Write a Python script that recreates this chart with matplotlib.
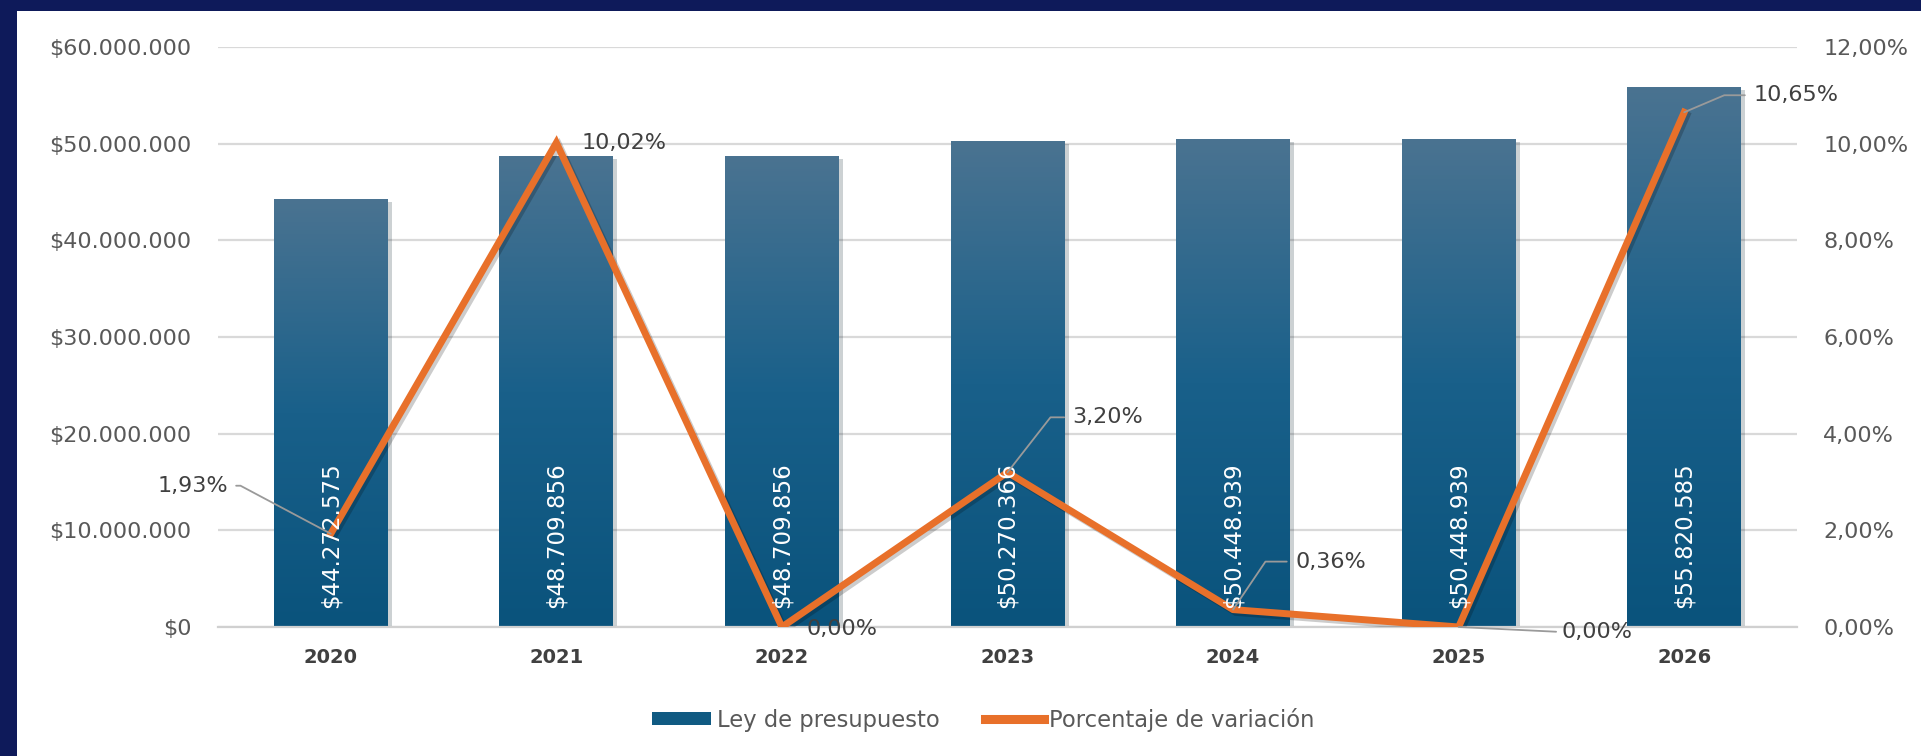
import numpy as np
import matplotlib
matplotlib.use("Agg")
import matplotlib.pyplot as plt
import matplotlib.patheffects as pe
from matplotlib.colors import LinearSegmentedColormap
from matplotlib.patches import Rectangle, Patch
from matplotlib.lines import Line2D
from matplotlib.ticker import FuncFormatter

# data
years = ["2020", "2021", "2022", "2023", "2024", "2025", "2026"]
budget = [44272575, 48709856, 48709856, 50270366, 50448939, 50448939, 55820585]
variation = [1.93, 10.02, 0.00, 3.20, 0.36, 0.00, 10.65]

plt.rcParams['font.family'] = ['DejaVu Sans']

NAVY = '#0e1a5a'
ORANGE = '#e8702a'
GREY_TXT = '#595959'
DARK_TXT = '#404040'

fig = plt.figure(figsize=(19.21, 7.56), dpi=100, facecolor=NAVY)
# white panel inside the navy frame (frame only on top and left)
fig.patches.append(Rectangle((17/1921, 0), 1, (756-11)/756, transform=fig.transFigure,
                             facecolor='white', edgecolor='none', zorder=-1))

ax = fig.add_axes([218/1921, 129/756, (1797-218)/1921, (627-47)/756])
ax.set_facecolor('none')
x = np.arange(len(years))
bw = 0.505

cmap = LinearSegmentedColormap.from_list('bar', ['#0a537c', '#19608a', '#4a7391'])
grad = np.linspace(0, 1, 256).reshape(-1, 1)
bars = ax.bar(x, budget, width=bw, color='#0a537c', zorder=2,
              path_effects=[pe.SimplePatchShadow(offset=(3, -2), alpha=0.2), pe.Normal()])
for b in bars:
    x0, w, h = b.get_x(), b.get_width(), b.get_height()
    im = ax.imshow(grad, extent=[x0, x0 + w, 0, h], origin='lower', aspect='auto',
                   cmap=cmap, zorder=2.5)
    im.set_clip_path(b)

ax.set_xlim(-0.5, len(years) - 0.5)
ax.set_ylim(0, 60000000)
ax.set_yticks(np.arange(0, 60000001, 10000000))
ax.yaxis.set_major_formatter(FuncFormatter(lambda v, p: "$" + f"{int(v):,}".replace(',', '.')))
ax.grid(axis='y', color='#d9d9d9', lw=1.6, zorder=0)
ax.set_axisbelow(True)
for s in ['top', 'right', 'left']:
    ax.spines[s].set_visible(False)
ax.spines['bottom'].set_color('#d0d0d0')
ax.spines['bottom'].set_linewidth(1.6)
ax.tick_params(axis='y', length=0, pad=19, labelsize=16, labelcolor=GREY_TXT)
ax.tick_params(axis='x', length=0, pad=15, labelsize=14, labelcolor=DARK_TXT)
ax.set_xticks(x)
ax.set_xticklabels(years, fontweight='bold')

ax2 = ax.twinx()
ax2.set_ylim(0, 12)
ax2.set_yticks(np.arange(0, 12.1, 2))
ax2.yaxis.set_major_formatter(FuncFormatter(lambda v, p: f"{v:.2f}%".replace('.', ',')))
ax2.tick_params(axis='y', length=0, pad=19, labelsize=16, labelcolor=GREY_TXT)
for s in ax2.spines.values():
    s.set_visible(False)

ax2.plot(x, variation, color=ORANGE, lw=5, solid_joinstyle='miter', zorder=3,
         path_effects=[pe.SimpleLineShadow(offset=(2, -2), alpha=0.2), pe.Normal()])

# bar value labels, on top of the line
for xi, v in zip(x, budget):
    ax2.text(xi, 2000000, "$" + f"{v:,}".replace(',', '.'), transform=ax.transData,
             rotation=90, ha='center', va='bottom', color='white', fontsize=16.5, zorder=5)

# percentage labels with leader lines (offsets in pixels)
offsets = [(-103, 48, 'right', -28), (25, 0, 'left', None), (25, -2, 'left', None),
           (65, 55, 'left', 52), (62, 48, 'left', 56), (103, -5, 'left', 'straight'),
           (69, 17, 'left', 23)]
for xi, v, (dx, dy, ha, ang) in zip(x, variation, offsets):
    txt = f"{v:.2f}%".replace('.', ',')
    kw = {}
    if ang == 'straight':
        kw['arrowprops'] = dict(arrowstyle='-', color='#9a9a9a', lw=1.3, shrinkA=2, shrinkB=0,
                                relpos=(0, 0.5))
    elif ang is not None:
        kw['arrowprops'] = dict(arrowstyle='-', color='#9a9a9a', lw=1.3, shrinkA=4, shrinkB=0,
                                relpos=(1, 0.5) if ha == 'right' else (0, 0.5),
                                connectionstyle=f"angle,angleA=0,angleB={ang},rad=0")
    ax2.annotate(txt, (xi, v), xytext=(dx, dy), textcoords='offset pixels', ha=ha, va='center',
                 fontsize=16, color=DARK_TXT, zorder=6, **kw)

handles = [Patch(facecolor='#105a82', edgecolor='none'),
           Line2D([0], [0], color=ORANGE, lw=6.5)]
fig.legend(handles, ['Ley de presupuesto', 'Porcentaje de variación'],
           loc='center', bbox_to_anchor=(0.512, 0.048), ncol=2, frameon=False,
           fontsize=16.3, labelcolor=GREY_TXT, handlelength=2.6, handleheight=0.5,
           handletextpad=0.25, columnspacing=2.0)

fig.savefig('out.png', dpi=100)
